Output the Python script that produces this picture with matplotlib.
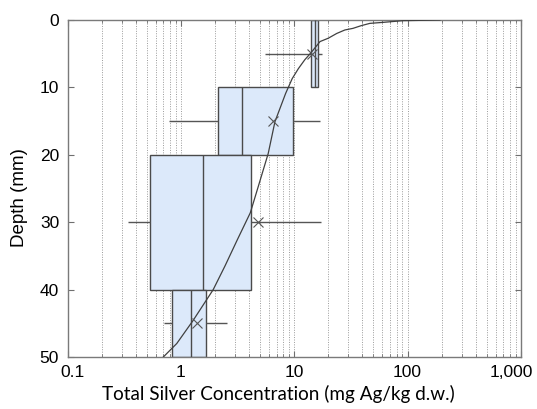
import matplotlib
matplotlib.use("Agg")
import matplotlib.pyplot as plt
from matplotlib.ticker import FixedLocator, LogLocator, NullFormatter
from matplotlib.transforms import ScaledTranslation

plt.rcParams['font.family'] = ['Liberation Sans', 'DejaVu Sans']

# depth intervals (mm)
depth_top = [0, 10, 20, 40]
depth_bot = [10, 20, 40, 50]
depth_mid = [5, 15, 30, 45]

# box statistics (mg Ag/kg d.w.)
whisk_lo = [5.5, 0.78, 0.34, 0.71]
q1 = [14.0, 2.14, 0.53, 0.83]
median = [15.4, 3.46, 1.58, 1.24]
q3 = [16.3, 9.8, 4.18, 1.67]
whisk_hi = [17.5, 16.8, 17.2, 2.57]
mean = [14.3, 6.5, 4.82, 1.38]

# fitted profile
curve_conc = [193, 91, 61, 46.5, 39, 33, 28, 23.7, 20, 16.9, 14.0, 12.4, 10.9, 9.6,
              8.4, 6.76, 5.9, 4.82, 4.1, 3.15, 2.45, 1.93, 1.28, 0.92, 0.70]
curve_depth = [0, 0.1, 0.35, 0.5, 0.84, 1.24, 1.48, 2.0, 2.7, 3.2, 4.9, 5.9, 7.2, 8.7,
               10.9, 15.1, 19.8, 24.7, 28.6, 32.6, 36.5, 40.0, 44.6, 48.0, 50.0]

xticks = [0.1, 1, 10, 100, 1000]
xticklabels = ["0.1", "1", "10", "100", "1,000"]
yticks = [0, 10, 20, 30, 40, 50]

fig = plt.figure(figsize=(5.37, 4.09), dpi=100)
ax = fig.add_axes([0.1257, 0.1271, 0.8443, 0.8240])

ax.set_xscale("log")
ax.set_xlim(0.1, 1000)
ax.set_ylim(50, 0)

# dotted vertical grid at every log tick
ax.xaxis.set_minor_locator(LogLocator(base=10, subs=range(2, 10)))
ax.xaxis.set_minor_formatter(NullFormatter())
ax.grid(True, axis="x", which="both", linestyle=(0, (1, 1.5)), color="#9a9a9a", linewidth=0.7)
ax.set_axisbelow(True)

heights = [b - t for t, b in zip(depth_top, depth_bot)]
widths = [b - a for a, b in zip(q1, q3)]
ax.barh(depth_top, widths, height=heights, left=q1, align="edge",
        color="#dce9fa", edgecolor="#4a4a4a", linewidth=1.0, zorder=2)

for i in range(len(depth_mid)):
    ax.vlines(median[i], depth_top[i], depth_bot[i], color="#4a4a4a", linewidth=1.0, zorder=3)
    ax.hlines(depth_mid[i], whisk_lo[i], q1[i], color="#555555", linewidth=1.0, zorder=3)
    ax.hlines(depth_mid[i], q3[i], whisk_hi[i], color="#555555", linewidth=1.0, zorder=3)

ax.plot(curve_conc, curve_depth, color="#404040", linewidth=0.9, zorder=4)
ax.plot(mean, depth_mid, linestyle="none", marker="x", markersize=7,
        markeredgewidth=0.8, color="#555555", zorder=5)

ax.xaxis.set_major_locator(FixedLocator(xticks))
ax.set_xticklabels(xticklabels)
ax.set_yticks(yticks)
ax.tick_params(axis="both", which="both", direction="in", top=True, right=True,
               colors="#6f6f6f", labelcolor="black", labelsize=12.5)
ax.tick_params(which="major", length=4)
ax.tick_params(which="minor", length=2)
ax.tick_params(axis="x", pad=6)
ax.tick_params(axis="y", pad=6)

# nudge the end labels inward like the original
xl = ax.get_xticklabels()
xl[0].set_transform(xl[0].get_transform() + ScaledTranslation(0.05, 0, fig.dpi_scale_trans))
xl[-1].set_transform(xl[-1].get_transform() + ScaledTranslation(-0.10, 0, fig.dpi_scale_trans))

for s in ax.spines.values():
    s.set_color("#7a7a7a")
    s.set_linewidth(1.0)

ax.set_xlabel("Total Silver Concentration (mg Ag/kg d.w.)", fontsize=13.6,
              family="Lato")
ax.xaxis.set_label_coords(0.466, -0.084)
ax.set_ylabel("Depth (mm)", fontsize=13.5)
ax.yaxis.set_label_coords(-0.088, 0.472)

fig.savefig("out.png", dpi=100)
